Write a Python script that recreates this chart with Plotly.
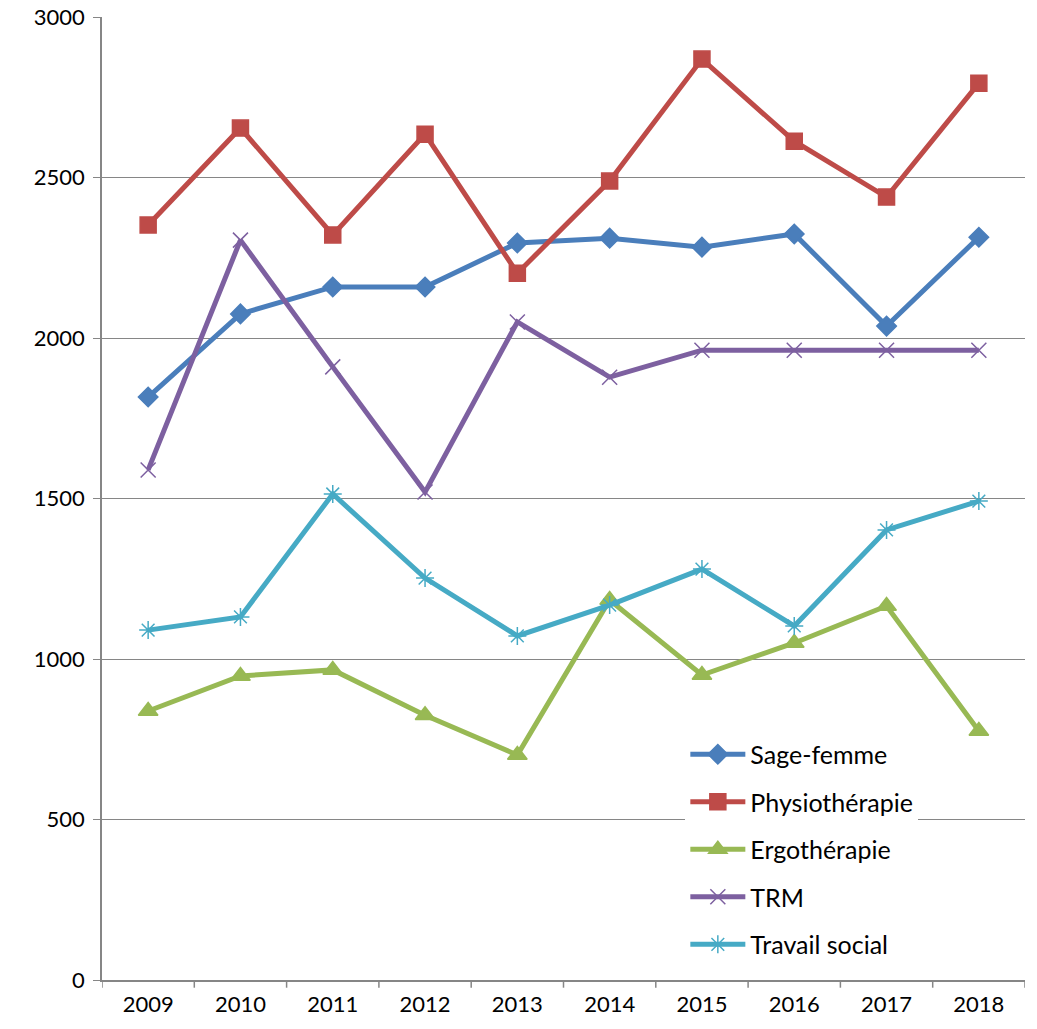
import plotly.graph_objects as go

years = ["2009", "2010", "2011", "2012", "2013", "2014", "2015", "2016", "2017", "2018"]

sage_femme = [1816, 2075, 2159, 2159, 2296, 2311, 2283, 2324, 2037, 2314]
physiotherapie = [2352, 2654, 2321, 2635, 2202, 2489, 2869, 2613, 2439, 2794]
ergotherapie = [838, 947, 966, 825, 701, 1184, 950, 1050, 1165, 776]
trm = [1589, 2305, 1910, 1520, 2050, 1878, 1962, 1962, 1962, 1962]
travail_social = [1090, 1131, 1514, 1252, 1072, 1168, 1280, 1103, 1402, 1492]

series = [
    ("Sage-femme", sage_femme, "#4A7EBB", "diamond", 15),
    ("Physiothérapie", physiotherapie, "#BE4B48", "square", 16),
    ("Ergothérapie", ergotherapie, "#98B954", "triangle-up", 17),
    ("TRM", trm, "#7D60A0", "x-thin-open", 15),
    ("Travail social", travail_social, "#46AAC5", "asterisk-open", 15),
]

fig = go.Figure()
for i, (name, vals, color, sym, size) in enumerate(series):
    fig.add_trace(go.Scatter(
        x=list(range(len(years))), y=vals, name=name, mode="lines+markers",
        legendgroup=f"g{i}",
        line=dict(color=color, width=5),
        marker=dict(symbol=sym, size=size, color=color,
                    line=dict(color=color, width=1.5)),
    ))

font = "Lato, 'Open Sans', sans-serif"
fig.update_layout(
    width=1037, height=1029,
    margin=dict(l=102, r=12, t=17, b=49, autoexpand=False),
    paper_bgcolor="white", plot_bgcolor="white",
    font=dict(family=font, size=22, color="black"),
    showlegend=True,
    legend=dict(
        x=0.632, y=0.258, xanchor="left", yanchor="top",
        bgcolor="white", borderwidth=0,
        font=dict(size=25), itemwidth=55,
        traceorder="grouped", tracegroupgap=12,
    ),
    xaxis=dict(
        range=[-0.5, 9.5], tickmode="array",
        tickvals=list(range(len(years))), ticktext=years,
        showgrid=False, zeroline=False, automargin=False,
        showline=True, linecolor="#868686", linewidth=1.5,
        ticks="", ticklabelstandoff=4,
    ),
    yaxis=dict(
        range=[0, 3000], dtick=500, automargin=False,
        showgrid=True, gridcolor="#868686", gridwidth=1.2,
        zeroline=False, showline=True, linecolor="#868686", linewidth=1.5,
        ticks="outside", ticklen=7, tickcolor="#868686", tickwidth=1.2,
        ticklabelstandoff=4,
    ),
)

# category boundary tick marks below the x axis
for k in range(len(years) + 1):
    fig.add_shape(type="line", xref="x", yref="paper",
                  x0=k - 0.5, x1=k - 0.5, y0=0, y1=-0.008,
                  line=dict(color="#868686", width=1.5))

fig.write_html("out.html")
